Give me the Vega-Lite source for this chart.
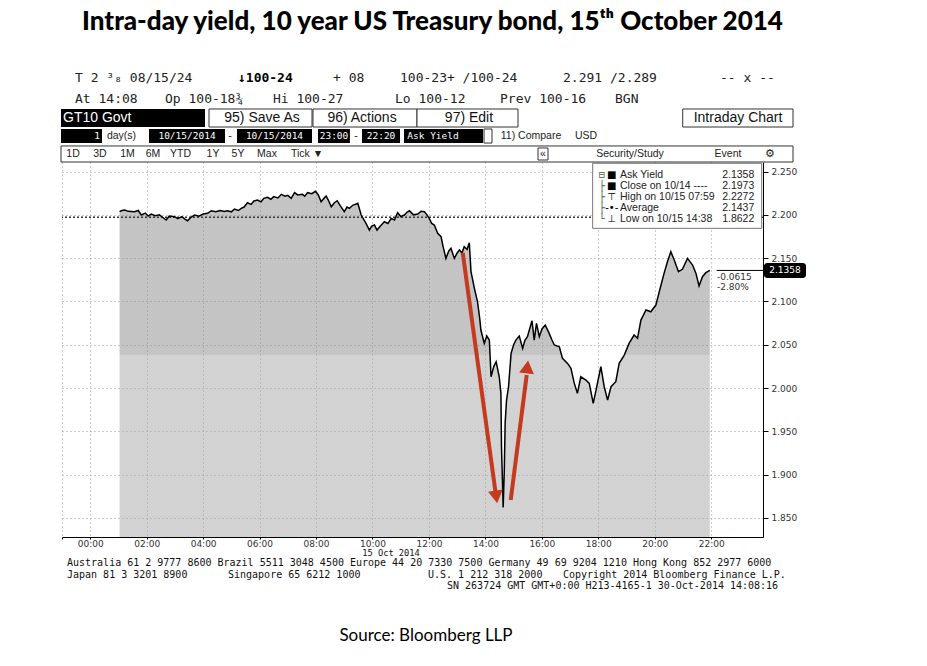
{
  "$schema": "https://vega.github.io/schema/vega-lite/v6.json",
  "width": 701,
  "height": 375,
  "autosize": {"type": "none"},
  "padding": {"left": 62, "top": 162, "right": 164, "bottom": 129},
  "background": "white",
  "title": {
    "text": "Intra-day yield, 10 year US Treasury bond, 15ᵗʰ October 2014",
    "font": "Lato", "fontSize": 26, "fontWeight": 900, "color": "#000",
    "anchor": "middle", "dx": 20, "offset": 37
  },
  "config": {"view": {"stroke": null}},
  "datasets": {
    "yield": [
      {"t": 1.04, "y": 2.2036}, {"t": 1.12, "y": 2.2050}, {"t": 1.22, "y": 2.2055}, {"t": 1.35, "y": 2.2040},
      {"t": 1.57, "y": 2.2036}, {"t": 1.70, "y": 2.2050}, {"t": 1.81, "y": 2.1998}, {"t": 1.95, "y": 2.2020},
      {"t": 2.05, "y": 2.1985}, {"t": 2.16, "y": 2.2009}, {"t": 2.30, "y": 2.1990}, {"t": 2.45, "y": 2.2000},
      {"t": 2.55, "y": 2.1975}, {"t": 2.69, "y": 2.1940}, {"t": 2.80, "y": 2.1985}, {"t": 2.99, "y": 2.1978},
      {"t": 3.10, "y": 2.1955}, {"t": 3.25, "y": 2.1980}, {"t": 3.35, "y": 2.1950}, {"t": 3.45, "y": 2.1932},
      {"t": 3.58, "y": 2.1975}, {"t": 3.70, "y": 2.1998}, {"t": 3.85, "y": 2.1985}, {"t": 4.00, "y": 2.2010},
      {"t": 4.16, "y": 2.2017}, {"t": 4.29, "y": 2.2047}, {"t": 4.45, "y": 2.2035}, {"t": 4.60, "y": 2.2050},
      {"t": 4.75, "y": 2.2040}, {"t": 4.86, "y": 2.2047}, {"t": 5.00, "y": 2.2035}, {"t": 5.11, "y": 2.2067},
      {"t": 5.25, "y": 2.2050}, {"t": 5.35, "y": 2.2075}, {"t": 5.45, "y": 2.2090}, {"t": 5.57, "y": 2.2140},
      {"t": 5.70, "y": 2.2120}, {"t": 5.80, "y": 2.2160}, {"t": 5.93, "y": 2.2171}, {"t": 6.05, "y": 2.2150},
      {"t": 6.15, "y": 2.2190}, {"t": 6.28, "y": 2.2202}, {"t": 6.40, "y": 2.2180}, {"t": 6.50, "y": 2.2210},
      {"t": 6.65, "y": 2.2195}, {"t": 6.77, "y": 2.2237}, {"t": 6.90, "y": 2.2215}, {"t": 7.00, "y": 2.2225},
      {"t": 7.12, "y": 2.2190}, {"t": 7.24, "y": 2.2256}, {"t": 7.35, "y": 2.2230}, {"t": 7.52, "y": 2.2237},
      {"t": 7.60, "y": 2.2215}, {"t": 7.70, "y": 2.2256}, {"t": 7.85, "y": 2.2245}, {"t": 7.98, "y": 2.2272},
      {"t": 8.08, "y": 2.2230}, {"t": 8.18, "y": 2.2151}, {"t": 8.28, "y": 2.2190}, {"t": 8.36, "y": 2.2217},
      {"t": 8.45, "y": 2.2160}, {"t": 8.54, "y": 2.2094}, {"t": 8.65, "y": 2.2140}, {"t": 8.75, "y": 2.2163},
      {"t": 8.85, "y": 2.2110}, {"t": 9.00, "y": 2.2036}, {"t": 9.10, "y": 2.2090}, {"t": 9.18, "y": 2.2075},
      {"t": 9.30, "y": 2.2110}, {"t": 9.48, "y": 2.2133}, {"t": 9.60, "y": 2.1998}, {"t": 9.77, "y": 2.1902},
      {"t": 9.89, "y": 2.1824}, {"t": 9.97, "y": 2.1870}, {"t": 10.07, "y": 2.1882}, {"t": 10.16, "y": 2.1824},
      {"t": 10.28, "y": 2.1870}, {"t": 10.42, "y": 2.1920}, {"t": 10.55, "y": 2.1900}, {"t": 10.66, "y": 2.1959},
      {"t": 10.78, "y": 2.1940}, {"t": 10.89, "y": 2.2025}, {"t": 11.00, "y": 2.1980}, {"t": 11.13, "y": 2.1998},
      {"t": 11.22, "y": 2.2030}, {"t": 11.31, "y": 2.2047}, {"t": 11.45, "y": 2.2000}, {"t": 11.60, "y": 2.2009},
      {"t": 11.72, "y": 2.2040}, {"t": 11.84, "y": 2.2036}, {"t": 11.93, "y": 2.2000}, {"t": 12.01, "y": 2.1959},
      {"t": 12.10, "y": 2.1900}, {"t": 12.19, "y": 2.1882}, {"t": 12.31, "y": 2.1786}, {"t": 12.43, "y": 2.1747},
      {"t": 12.49, "y": 2.1651}, {"t": 12.60, "y": 2.1497}, {"t": 12.70, "y": 2.1580}, {"t": 12.78, "y": 2.1613},
      {"t": 12.90, "y": 2.1497}, {"t": 13.00, "y": 2.1560}, {"t": 13.08, "y": 2.1594}, {"t": 13.17, "y": 2.1560},
      {"t": 13.25, "y": 2.1632}, {"t": 13.35, "y": 2.1600}, {"t": 13.43, "y": 2.1678}, {"t": 13.49, "y": 2.1343},
      {"t": 13.61, "y": 2.1151}, {"t": 13.72, "y": 2.0997}, {"t": 13.80, "y": 2.0800}, {"t": 13.84, "y": 2.0670},
      {"t": 13.96, "y": 2.0516}, {"t": 14.05, "y": 2.0600}, {"t": 14.14, "y": 2.0554}, {"t": 14.20, "y": 2.0130},
      {"t": 14.30, "y": 2.0250}, {"t": 14.38, "y": 2.0304}, {"t": 14.49, "y": 2.0130}, {"t": 14.55, "y": 1.9939},
      {"t": 14.57, "y": 1.9322}, {"t": 14.63, "y": 1.8622}, {"t": 14.67, "y": 1.9053}, {"t": 14.70, "y": 1.9596},
      {"t": 14.75, "y": 1.9861}, {"t": 14.82, "y": 2.0015}, {"t": 14.91, "y": 2.0400}, {"t": 15.00, "y": 2.0500},
      {"t": 15.08, "y": 2.0554}, {"t": 15.20, "y": 2.0600}, {"t": 15.32, "y": 2.0458}, {"t": 15.40, "y": 2.0550},
      {"t": 15.49, "y": 2.0593}, {"t": 15.65, "y": 2.0777}, {"t": 15.73, "y": 2.0554}, {"t": 15.81, "y": 2.0747},
      {"t": 15.91, "y": 2.0593}, {"t": 16.00, "y": 2.0680}, {"t": 16.12, "y": 2.0727}, {"t": 16.26, "y": 2.0631},
      {"t": 16.35, "y": 2.0560}, {"t": 16.44, "y": 2.0497}, {"t": 16.62, "y": 2.0477}, {"t": 16.73, "y": 2.0343},
      {"t": 16.91, "y": 2.0285}, {"t": 17.03, "y": 2.0227}, {"t": 17.15, "y": 2.0054}, {"t": 17.26, "y": 1.9939},
      {"t": 17.38, "y": 2.0130}, {"t": 17.56, "y": 2.0092}, {"t": 17.68, "y": 2.0054}, {"t": 17.82, "y": 1.9823},
      {"t": 17.92, "y": 1.9977}, {"t": 18.09, "y": 2.0246}, {"t": 18.21, "y": 2.0015}, {"t": 18.33, "y": 1.9861},
      {"t": 18.45, "y": 2.0015}, {"t": 18.62, "y": 2.0073}, {"t": 18.74, "y": 2.0285}, {"t": 18.92, "y": 2.0381},
      {"t": 19.09, "y": 2.0516}, {"t": 19.27, "y": 2.0612}, {"t": 19.39, "y": 2.0574}, {"t": 19.51, "y": 2.0785},
      {"t": 19.69, "y": 2.0901}, {"t": 19.86, "y": 2.0881}, {"t": 20.04, "y": 2.0958}, {"t": 20.16, "y": 2.1112},
      {"t": 20.33, "y": 2.1324}, {"t": 20.45, "y": 2.1459}, {"t": 20.57, "y": 2.1574}, {"t": 20.69, "y": 2.1478},
      {"t": 20.84, "y": 2.1343}, {"t": 20.98, "y": 2.1371}, {"t": 21.16, "y": 2.1497}, {"t": 21.34, "y": 2.1420},
      {"t": 21.46, "y": 2.1324}, {"t": 21.57, "y": 2.1178}, {"t": 21.69, "y": 2.1285}, {"t": 21.81, "y": 2.1332},
      {"t": 21.95, "y": 2.1358}
    ],
    "blackBoxes": [
      {"x": -1.035, "x2": 4.066, "y": 2.3222, "y2": 2.3014},
      {"x": -1.035, "x2": 0.417, "y": 2.2991, "y2": 2.2829},
      {"x": 2.082, "x2": 4.775, "y": 2.2991, "y2": 2.2829},
      {"x": 5.200, "x2": 7.857, "y": 2.2991, "y2": 2.2829},
      {"x": 8.07, "x2": 9.2, "y": 2.2991, "y2": 2.2829},
      {"x": 9.628, "x2": 10.975, "y": 2.2991, "y2": 2.2829},
      {"x": 11.117, "x2": 13.915, "y": 2.2991, "y2": 2.2829}
    ],
    "whiteBoxes": [
      {"x": 4.208, "x2": 7.857, "y": 2.3222, "y2": 2.3014},
      {"x": 7.892, "x2": 11.577, "y": 2.3222, "y2": 2.3014},
      {"x": 11.577, "x2": 15.155, "y": 2.3222, "y2": 2.3014},
      {"x": 20.991, "x2": 24.898, "y": 2.3222, "y2": 2.3014},
      {"x": 13.951, "x2": 14.234, "y": 2.2991, "y2": 2.2829},
      {"x": -1.035, "x2": 24.898, "y": 2.2795, "y2": 2.261},
      {"x": 15.864, "x2": 16.218, "y": 2.2772, "y2": 2.2633}
    ],
    "monoRows": [
      {"x": -0.539, "y": 2.358, "text": "T 2 ³₈ 08/15/24"},
      {"x": 8.601, "y": 2.358, "text": "+ 08"},
      {"x": 10.975, "y": 2.358, "text": "100-23+ /100-24"},
      {"x": 16.750, "y": 2.358, "text": "2.291 /2.289"},
      {"x": 22.312, "y": 2.358, "text": "-- x --"},
      {"x": -0.539, "y": 2.3337, "text": "At 14:08"},
      {"x": 2.649, "y": 2.3337, "text": "Op 100-18¾"},
      {"x": 6.475, "y": 2.3337, "text": "Hi 100-27"},
      {"x": 10.798, "y": 2.3337, "text": "Lo 100-12"},
      {"x": 14.518, "y": 2.3337, "text": "Prev 100-16"},
      {"x": 18.592, "y": 2.3337, "text": "BGN"}
    ],
    "whiteText": [
      {"x": 0.24, "y": 2.291, "text": "1"},
      {"x": 3.429, "y": 2.291, "text": "10/15/2014"},
      {"x": 6.528, "y": 2.291, "text": "10/15/2014"},
      {"x": 8.636, "y": 2.291, "text": "23:00"},
      {"x": 10.302, "y": 2.291, "text": "22:20"},
      {"x": 12.144, "y": 2.291, "text": "Ask Yield"}
    ],
    "buttons": [
      {"x": 6.086, "y": 2.3118, "text": "95) Save As"},
      {"x": 9.629, "y": 2.3118, "text": "96) Actions"},
      {"x": 13.419, "y": 2.3118, "text": "97) Edit"},
      {"x": 22.95, "y": 2.3118, "text": "Intraday Chart"}
    ],
    "smallText": [
      {"x": 1.108, "y": 2.291, "text": "day(s)"},
      {"x": 4.952, "y": 2.291, "text": "-"},
      {"x": 9.416, "y": 2.291, "text": "-"},
      {"x": 15.616, "y": 2.291, "text": "11) Compare"},
      {"x": 17.564, "y": 2.291, "text": "USD"},
      {"x": -0.61, "y": 2.2702, "text": "1D"},
      {"x": 0.346, "y": 2.2702, "text": "3D"},
      {"x": 1.321, "y": 2.2702, "text": "1M"},
      {"x": 2.224, "y": 2.2702, "text": "6M"},
      {"x": 3.198, "y": 2.2702, "text": "YTD"},
      {"x": 4.35, "y": 2.2702, "text": "1Y"},
      {"x": 5.235, "y": 2.2702, "text": "5Y"},
      {"x": 6.263, "y": 2.2702, "text": "Max"},
      {"x": 7.68, "y": 2.2702, "text": "Tick ▼"},
      {"x": 16.041, "y": 2.2702, "text": "«"},
      {"x": 19.123, "y": 2.2702, "text": "Security/Study"},
      {"x": 22.595, "y": 2.2702, "text": "Event"},
      {"x": 24.083, "y": 2.2702, "text": "⚙"}
    ],
    "legendRows": [
      {"y": 2.2460, "tree": "⊟", "icon": "■", "label": "Ask Yield", "value": "2.1358"},
      {"y": 2.2333, "tree": "├", "icon": "■", "label": "Close on 10/14 ----", "value": "2.1973"},
      {"y": 2.2209, "tree": "├", "icon": "⊤", "label": "High on 10/15 07:59", "value": "2.2272"},
      {"y": 2.2082, "tree": "├", "icon": "-•-", "label": "Average", "value": "2.1437"},
      {"y": 2.1948, "tree": "└", "icon": "⊥", "label": "Low on 10/15 14:38", "value": "1.8622"}
    ],
    "footer": [
      {"x": -0.823, "y": 1.7975, "text": "Australia 61 2 9777 8600 Brazil 5511 3048 4500 Europe 44 20 7330 7500 Germany 49 69 9204 1210 Hong Kong 852 2977 6000"},
      {"x": -0.823, "y": 1.7841, "text": "Japan 81 3 3201 8900"},
      {"x": 4.881, "y": 1.7841, "text": "Singapore 65 6212 1000"},
      {"x": 11.967, "y": 1.7841, "text": "U.S. 1 212 318 2000"},
      {"x": 16.75, "y": 1.7841, "text": "Copyright 2014 Bloomberg Finance L.P."},
      {"x": 12.64, "y": 1.7714, "text": "SN 263724 GMT  GMT+0:00 H213-4165-1 30-Oct-2014 14:08:16"}
    ]
  },
  "layer": [
    {
      "data": {"name": "yield"},
      "mark": {
        "type": "area",
        "fillOpacity": 0.5,
        "fill": {
          "gradient": "linear", "x1": 0, "y1": 0, "x2": 0, "y2": 1,
          "stops": [
            {"offset": 0, "color": "#8a8a8a"},
            {"offset": 0.472, "color": "#8a8a8a"},
            {"offset": 0.473, "color": "#a6a6a6"},
            {"offset": 1, "color": "#a6a6a6"}
          ]
        }
      },
      "encoding": {
        "x": {
          "field": "t", "type": "quantitative",
          "scale": {"domain": [-1, 23.835], "nice": false, "zero": false},
          "axis": {
            "title": null,
            "values": [-1, 0, 2, 4, 6, 8, 10, 12, 14, 16, 18, 20, 22],
            "labelExpr": "datum.value < 0 ? '' : (datum.value < 10 ? '0' : '') + datum.value + ':00'",
            "grid": true, "gridDash": [1, 3], "gridColor": "#999", "gridOpacity": 1,
            "domainColor": "#000", "tickColor": "#000", "tickSize": 2,
            "labelFont": "DejaVu Sans", "labelFontSize": 9, "labelColor": "#333",
            "labelPadding": 0, "labelOverlap": false, "labelFlush": false
          }
        },
        "y": {
          "field": "y", "type": "quantitative",
          "scale": {"domain": [1.828, 2.261], "nice": false, "zero": false},
          "axis": {
            "title": null, "orient": "right",
            "values": [1.85, 1.9, 1.95, 2.0, 2.05, 2.1, 2.15, 2.2, 2.25],
            "format": ".3f",
            "grid": true, "gridDash": [1, 3], "gridColor": "#999", "gridOpacity": 1,
            "domainColor": "#000", "tickColor": "#000", "tickSize": 5,
            "labelFont": "DejaVu Sans", "labelFontSize": 9, "labelColor": "#333",
            "labelPadding": 3
          }
        },
        "y2": {"datum": 1.828}
      }
    },
    {
      "data": {"values": [{"y": 2.1973}]},
      "mark": {"type": "rule", "color": "#333", "strokeWidth": 1.5, "strokeDash": [2, 2]},
      "encoding": {"y": {"field": "y", "type": "quantitative"}}
    },
    {
      "data": {"name": "yield"},
      "mark": {"type": "line", "color": "#000", "strokeWidth": 1.5},
      "encoding": {
        "x": {"field": "t", "type": "quantitative"},
        "y": {"field": "y", "type": "quantitative"}
      }
    },
    {
      "data": {"values": [
        {"x": 13.196, "y": 2.1563, "x2": 14.358, "y2": 1.8799},
        {"x": 14.897, "y": 1.8707, "x2": 15.463, "y2": 2.015}
      ]},
      "mark": {"type": "rule", "color": "#c43a1e", "strokeWidth": 4},
      "encoding": {
        "x": {"field": "x", "type": "quantitative"},
        "y": {"field": "y", "type": "quantitative"},
        "x2": {"field": "x2"},
        "y2": {"field": "y2"}
      }
    },
    {
      "data": {"values": [{"x": 14.387, "y": 1.8742}]},
      "mark": {"type": "point", "shape": "triangle-down", "angle": 352, "size": 220, "filled": true, "color": "#c43a1e", "opacity": 1},
      "encoding": {
        "x": {"field": "x", "type": "quantitative"},
        "y": {"field": "y", "type": "quantitative"}
      }
    },
    {
      "data": {"values": [{"x": 15.485, "y": 2.0243}]},
      "mark": {"type": "point", "shape": "triangle-up", "angle": 7, "size": 220, "filled": true, "color": "#c43a1e", "opacity": 1},
      "encoding": {
        "x": {"field": "x", "type": "quantitative"},
        "y": {"field": "y", "type": "quantitative"}
      }
    },
    {
      "data": {"values": [{"x": 17.8, "x2": 23.789, "y": 2.2595, "y2": 2.1844}]},
      "mark": {"type": "rect", "fill": "#fff", "stroke": "#777", "strokeWidth": 1},
      "encoding": {
        "x": {"field": "x", "type": "quantitative"},
        "x2": {"field": "x2"},
        "y": {"field": "y", "type": "quantitative"},
        "y2": {"field": "y2"}
      }
    },
    {
      "data": {"name": "legendRows"},
      "mark": {"type": "text", "align": "center", "baseline": "middle", "font": "DejaVu Sans Mono", "fontSize": 10, "color": "#555"},
      "encoding": {
        "x": {"datum": 18.121, "type": "quantitative"},
        "y": {"field": "y", "type": "quantitative"},
        "text": {"field": "tree"}
      }
    },
    {
      "data": {"name": "legendRows"},
      "mark": {"type": "text", "align": "center", "baseline": "middle", "font": "DejaVu Sans", "fontSize": 10, "color": "#000"},
      "encoding": {
        "x": {"datum": 18.475, "type": "quantitative"},
        "y": {"field": "y", "type": "quantitative"},
        "text": {"field": "icon"}
      }
    },
    {
      "data": {"name": "legendRows"},
      "mark": {"type": "text", "align": "left", "baseline": "middle", "font": "Liberation Sans", "fontSize": 10.5, "color": "#222"},
      "encoding": {
        "x": {"datum": 18.769, "type": "quantitative"},
        "y": {"field": "y", "type": "quantitative"},
        "text": {"field": "label"}
      }
    },
    {
      "data": {"name": "legendRows"},
      "mark": {"type": "text", "align": "right", "baseline": "middle", "font": "Liberation Sans", "fontSize": 10.5, "color": "#222"},
      "encoding": {
        "x": {"datum": 23.527, "type": "quantitative"},
        "y": {"field": "y", "type": "quantitative"},
        "text": {"field": "value"}
      }
    },
    {
      "data": {"values": [{"x": 22.195, "x2": 23.835, "y": 2.1358}]},
      "mark": {"type": "rule", "color": "#000", "strokeWidth": 1},
      "encoding": {
        "x": {"field": "x", "type": "quantitative"},
        "x2": {"field": "x2"},
        "y": {"field": "y", "type": "quantitative"}
      }
    },
    {
      "data": {"values": [
        {"x": 22.205, "y": 2.1282, "text": "-0.0615"},
        {"x": 22.205, "y": 2.1161, "text": "-2.80%"}
      ]},
      "mark": {"type": "text", "align": "left", "baseline": "middle", "font": "DejaVu Sans", "fontSize": 9, "color": "#333"},
      "encoding": {
        "x": {"field": "x", "type": "quantitative"},
        "y": {"field": "y", "type": "quantitative"},
        "text": {"field": "text"}
      }
    },
    {
      "data": {"values": [{"x": 23.871, "x2": 25.359, "y": 2.1444, "y2": 2.127}]},
      "mark": {"type": "rect", "fill": "#000", "cornerRadius": 3},
      "encoding": {
        "x": {"field": "x", "type": "quantitative"},
        "x2": {"field": "x2"},
        "y": {"field": "y", "type": "quantitative"},
        "y2": {"field": "y2"}
      }
    },
    {
      "data": {"values": [{"x": 24.615, "y": 2.1358, "text": "2.1358"}]},
      "mark": {"type": "text", "align": "center", "baseline": "middle", "font": "DejaVu Sans", "fontSize": 9, "color": "#fff"},
      "encoding": {
        "x": {"field": "x", "type": "quantitative"},
        "y": {"field": "y", "type": "quantitative"},
        "text": {"field": "text"}
      }
    },
    {
      "data": {"name": "blackBoxes"},
      "mark": {"type": "rect", "fill": "#000"},
      "encoding": {
        "x": {"field": "x", "type": "quantitative"},
        "x2": {"field": "x2"},
        "y": {"field": "y", "type": "quantitative"},
        "y2": {"field": "y2"}
      }
    },
    {
      "data": {"name": "whiteBoxes"},
      "mark": {"type": "rect", "fill": "#fff", "stroke": "#333", "strokeWidth": 1},
      "encoding": {
        "x": {"field": "x", "type": "quantitative"},
        "x2": {"field": "x2"},
        "y": {"field": "y", "type": "quantitative"},
        "y2": {"field": "y2"}
      }
    },
    {
      "data": {"name": "monoRows"},
      "mark": {"type": "text", "align": "left", "baseline": "middle", "font": "DejaVu Sans Mono", "fontSize": 13, "color": "#222"},
      "encoding": {
        "x": {"field": "x", "type": "quantitative"},
        "y": {"field": "y", "type": "quantitative"},
        "text": {"field": "text"}
      }
    },
    {
      "data": {"values": [{"x": 5.235, "y": 2.358, "text": "↓100-24"}]},
      "mark": {"type": "text", "align": "left", "baseline": "middle", "font": "DejaVu Sans Mono", "fontSize": 13, "fontWeight": "bold", "color": "#000"},
      "encoding": {
        "x": {"field": "x", "type": "quantitative"},
        "y": {"field": "y", "type": "quantitative"},
        "text": {"field": "text"}
      }
    },
    {
      "data": {"name": "whiteText"},
      "mark": {"type": "text", "align": "center", "baseline": "middle", "font": "DejaVu Sans Mono", "fontSize": 9.5, "color": "#fff"},
      "encoding": {
        "x": {"field": "x", "type": "quantitative"},
        "y": {"field": "y", "type": "quantitative"},
        "text": {"field": "text"}
      }
    },
    {
      "data": {"values": [{"x": -0.965, "y": 2.3118, "text": "GT10 Govt"}]},
      "mark": {"type": "text", "align": "left", "baseline": "middle", "font": "Liberation Sans", "fontSize": 14, "color": "#fff"},
      "encoding": {
        "x": {"field": "x", "type": "quantitative"},
        "y": {"field": "y", "type": "quantitative"},
        "text": {"field": "text"}
      }
    },
    {
      "data": {"name": "buttons"},
      "mark": {"type": "text", "align": "center", "baseline": "middle", "font": "Liberation Sans", "fontSize": 14, "color": "#111"},
      "encoding": {
        "x": {"field": "x", "type": "quantitative"},
        "y": {"field": "y", "type": "quantitative"},
        "text": {"field": "text"}
      }
    },
    {
      "data": {"name": "smallText"},
      "mark": {"type": "text", "align": "center", "baseline": "middle", "font": "Liberation Sans", "fontSize": 10.5, "color": "#222"},
      "encoding": {
        "x": {"field": "x", "type": "quantitative"},
        "y": {"field": "y", "type": "quantitative"},
        "text": {"field": "text"}
      }
    },
    {
      "data": {"name": "footer"},
      "mark": {"type": "text", "align": "left", "baseline": "middle", "font": "DejaVu Sans Mono", "fontSize": 10, "color": "#111"},
      "encoding": {
        "x": {"field": "x", "type": "quantitative"},
        "y": {"field": "y", "type": "quantitative"},
        "text": {"field": "text"}
      }
    },
    {
      "data": {"values": [{"x": 10.656, "y": 1.8098, "text": "15 Oct 2014"}]},
      "mark": {"type": "text", "align": "center", "baseline": "middle", "font": "DejaVu Sans Mono", "fontSize": 8.7, "color": "#111"},
      "encoding": {
        "x": {"field": "x", "type": "quantitative"},
        "y": {"field": "y", "type": "quantitative"},
        "text": {"field": "text"}
      }
    },
    {
      "data": {"values": [{"x": 11.896, "y": 1.7137, "text": "Source: Bloomberg LLP"}]},
      "mark": {"type": "text", "align": "center", "baseline": "middle", "font": "Lato", "fontSize": 17, "color": "#000"},
      "encoding": {
        "x": {"field": "x", "type": "quantitative"},
        "y": {"field": "y", "type": "quantitative"},
        "text": {"field": "text"}
      }
    }
  ]
}
